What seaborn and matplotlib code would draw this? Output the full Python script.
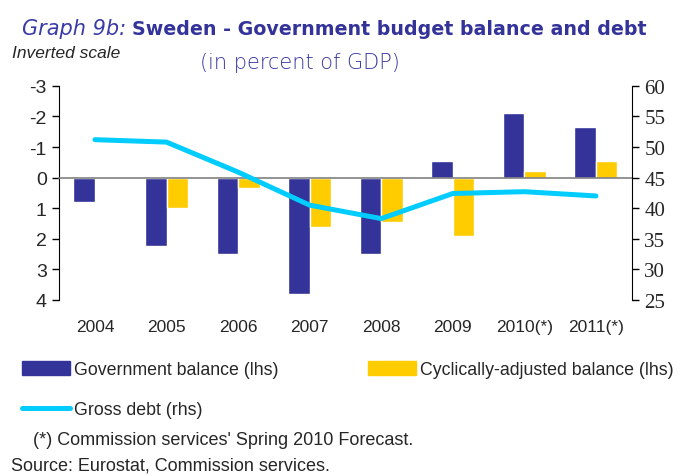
import numpy as np
import pandas as pd
import matplotlib.pyplot as plt
import seaborn as sns
from matplotlib.patches import Patch
from matplotlib.lines import Line2D

# Data (percent of GDP), left axis is inverted
years = ['2004', '2005', '2006', '2007', '2008', '2009', '2010(*)', '2011(*)']
gov_balance = [0.8, 2.25, 2.5, 3.8, 2.5, -0.55, -2.1, -1.65]
cyc_balance = [np.nan, 1.0, 0.35, 1.6, 1.45, 1.9, -0.2, -0.55]
gross_debt = [51.2, 50.8, 45.9, 40.5, 38.3, 42.4, 42.7, 42.0]

gov_label = 'Government balance (lhs)'
cyc_label = 'Cyclically-adjusted balance (lhs)'
debt_label = 'Gross debt (rhs)'

navy = '#333399'
yellow = '#FFCC00'
cyan = '#00CCFF'

df = pd.concat([
    pd.DataFrame({'year': years, 'value': gov_balance, 'series': gov_label}),
    pd.DataFrame({'year': years, 'value': cyc_balance, 'series': cyc_label}),
]).dropna()

sns.set_style('white')
plt.rcParams['font.family'] = ['Liberation Sans', 'DejaVu Sans']
plt.rcParams['axes.unicode_minus'] = False

fig = plt.figure(figsize=(6.8, 4.77), dpi=100)
ax = fig.add_axes([0.087, 0.369, 0.842, 0.449])

sns.barplot(data=df, x='year', y='value', hue='series', order=years,
            hue_order=[gov_label, cyc_label], palette=[navy, yellow],
            width=0.6, saturation=1, errorbar=None, legend=False, ax=ax)

ax.set_xlim(-0.5, len(years) - 0.5)
ax.set_ylim(4, -3)
ax.set_yticks(range(-3, 5))
ax.set_xlabel('')
ax.set_ylabel('')
ax.tick_params(axis='y', direction='out', length=5, width=1, color='black',
               labelsize=14, pad=4)

# x axis drawn through zero, labels kept at the bottom
for s in ['top', 'right']:
    ax.spines[s].set_visible(False)
ax.spines['left'].set_color('black')
ax.spines['bottom'].set_position(('data', 0))
ax.spines['bottom'].set_color('#808080')
ax.spines['bottom'].set_linewidth(1.2)
ax.set_xticks(range(len(years)))
ax.set_xticklabels(years)
ax.tick_params(axis='x', which='major', length=0, labelsize=12.5, pad=102)
ax.set_xticks(np.arange(0.5, len(years) - 1), minor=True)
ax.tick_params(axis='x', which='minor', direction='in', length=5,
               color='black', width=0.8)

# Gross debt on right axis
ax2 = ax.twinx()
sns.lineplot(x=np.arange(len(years)), y=gross_debt, color=cyan, linewidth=3.6,
             solid_capstyle='round', ax=ax2)
ax2.set_ylim(25, 60)
ax2.set_yticks(range(25, 61, 5))
ax2.tick_params(axis='y', direction='out', length=5, width=1, color='black',
                labelsize=15, pad=4)
for lbl in ax2.get_yticklabels():
    lbl.set_family('Liberation Serif')
for s in ['top', 'left', 'bottom']:
    ax2.spines[s].set_visible(False)
ax2.spines['right'].set_color('black')
ax2.grid(False)
ax.grid(False)

# Titles
fig.text(0.032, 0.927, 'Graph 9b:', fontsize=15, style='italic', color='#3a3aa8',
         family='DejaVu Sans', fontweight='light')
fig.text(0.194, 0.927, 'Sweden - Government budget balance and debt',
         fontsize=13.7, fontweight='bold', color=navy, family='DejaVu Sans')
fig.text(0.018, 0.878, 'Inverted scale', fontsize=12.5, style='italic')
fig.text(0.294, 0.855, '(in percent of GDP)', fontsize=15, color='#3535a0',
         family='DejaVu Sans', fontweight='light')

# Legend
handles = [Patch(color=navy, label=gov_label),
           Line2D([], [], color=cyan, linewidth=3.6, solid_capstyle='round',
                  label=debt_label),
           Patch(color=yellow, label=cyc_label)]
fig.legend(handles=handles, loc='upper left', bbox_to_anchor=(0.033, 0.241),
           ncol=2, frameon=False, handlelength=2.7,
           handleheight=0.8, handletextpad=0.22, columnspacing=5.0,
           labelspacing=1.3, borderaxespad=0, borderpad=0,
           prop={'family': 'Liberation Sans', 'size': 12.8})

# Footnotes
fig.text(0.048, 0.067, "(*) Commission services' Spring 2010 Forecast.",
         fontsize=13)
fig.text(0.016, 0.013, 'Source: Eurostat, Commission services.',
         fontsize=13)

fig.savefig('out.png', dpi=100)
